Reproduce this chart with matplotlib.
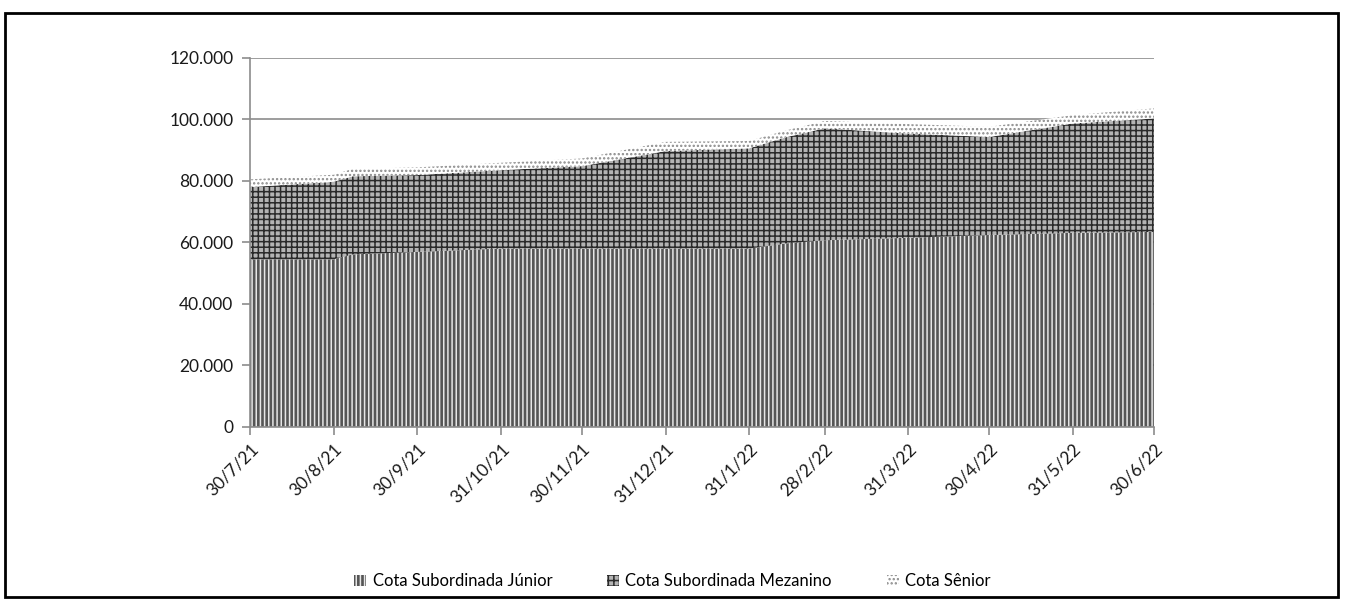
# -*- coding: utf-8 -*-
# Evolução do PL por classe de cotas (área empilhada)
import pandas as pd
import matplotlib.pyplot as plt
import matplotlib.ticker as mticker
from matplotlib.patches import Rectangle

plt.rcParams['font.family'] = ['Lato', 'DejaVu Sans']
plt.rcParams['hatch.linewidth'] = 1.1

# dados
datas = ['2021-07-30', '2021-08-30', '2021-09-06', '2021-09-30', '2021-10-31', '2021-11-30',
         '2021-12-31', '2022-01-31', '2022-02-14', '2022-02-28', '2022-03-31',
         '2022-04-30', '2022-05-31', '2022-06-30']
junior = [54500, 54500, 56100, 56900, 58000, 58000, 58000, 58000, 59700, 60700, 61500,
          62400, 63100, 63400]
mezanino = [23500, 25200, 25400, 25000, 25500, 26800, 31700, 32600, 34600, 36400, 33900,
            31900, 35600, 36900]
senior = [2500, 2300, 2400, 2500, 2400, 2500, 3000, 2400, 2200, 2400, 3100,
          3300, 2700, 3300]
nomes = ['Cota Subordinada Júnior', 'Cota Subordinada Mezanino', 'Cota Sênior']

ticks = ['2021-07-30', '2021-08-30', '2021-09-30', '2021-10-31', '2021-11-30', '2021-12-31',
         '2022-01-31', '2022-02-28', '2022-03-31', '2022-04-30', '2022-05-31', '2022-06-30']

x = pd.to_datetime(datas)
xt = pd.to_datetime(ticks)

fig = plt.figure(figsize=(13.45, 6.01), dpi=100)
ax = fig.add_axes([0.1859, 0.290, 0.672, 0.6135])

polys = ax.stackplot(x, junior, mezanino, senior, labels=nomes, linewidth=0)
estilos = [('#555555', '#e6e6e6', '||||'),   # Júnior
           ('#b4b4b4', '#2a2a2a', '+++'),    # Mezanino
           ('white', '#8a8a8a', '....')]     # Sênior
for p, (fc, ec, h) in zip(polys, estilos):
    p.set_facecolor(fc)
    p.set_edgecolor(ec)
    p.set_hatch(h)
    p.set_linewidth(0)

ax.set_xlim(xt[0], xt[-1])
ax.set_ylim(0, 120000)
ax.yaxis.set_major_locator(mticker.MultipleLocator(20000))
ax.yaxis.set_major_formatter(mticker.FuncFormatter(lambda v, p: f'{int(v):,}'.replace(',', '.')))
ax.set_xticks(xt)
ax.set_xticklabels([f'{d.day}/{d.month}/{d.strftime("%y")}' for d in xt],
                   rotation=45, ha='right', rotation_mode='anchor')

ax.grid(axis='y', color='#8c8c8c', linewidth=1.2, zorder=0)
ax.set_axisbelow(True)
for s in ['top', 'right']:
    ax.spines[s].set_visible(False)
for s in ['left', 'bottom']:
    ax.spines[s].set_color('#8c8c8c')
    ax.spines[s].set_linewidth(1.2)
ax.tick_params(axis='both', colors='#8c8c8c', labelcolor='#1a1a1a', labelsize=12.5,
               length=6, width=1.2)
ax.tick_params(axis='y', pad=6)
ax.tick_params(axis='x', pad=4)

leg = fig.legend(loc='center', bbox_to_anchor=(0.5, 0.033), ncol=3, frameon=False,
                 fontsize=12, handlelength=0.7, handleheight=0.7, handletextpad=0.4,
                 columnspacing=3.3)

fig.add_artist(Rectangle((0.004, 0.006), 0.991, 0.973, transform=fig.transFigure,
                         fill=False, edgecolor='black', linewidth=2))

fig.savefig('out.png', dpi=100)
